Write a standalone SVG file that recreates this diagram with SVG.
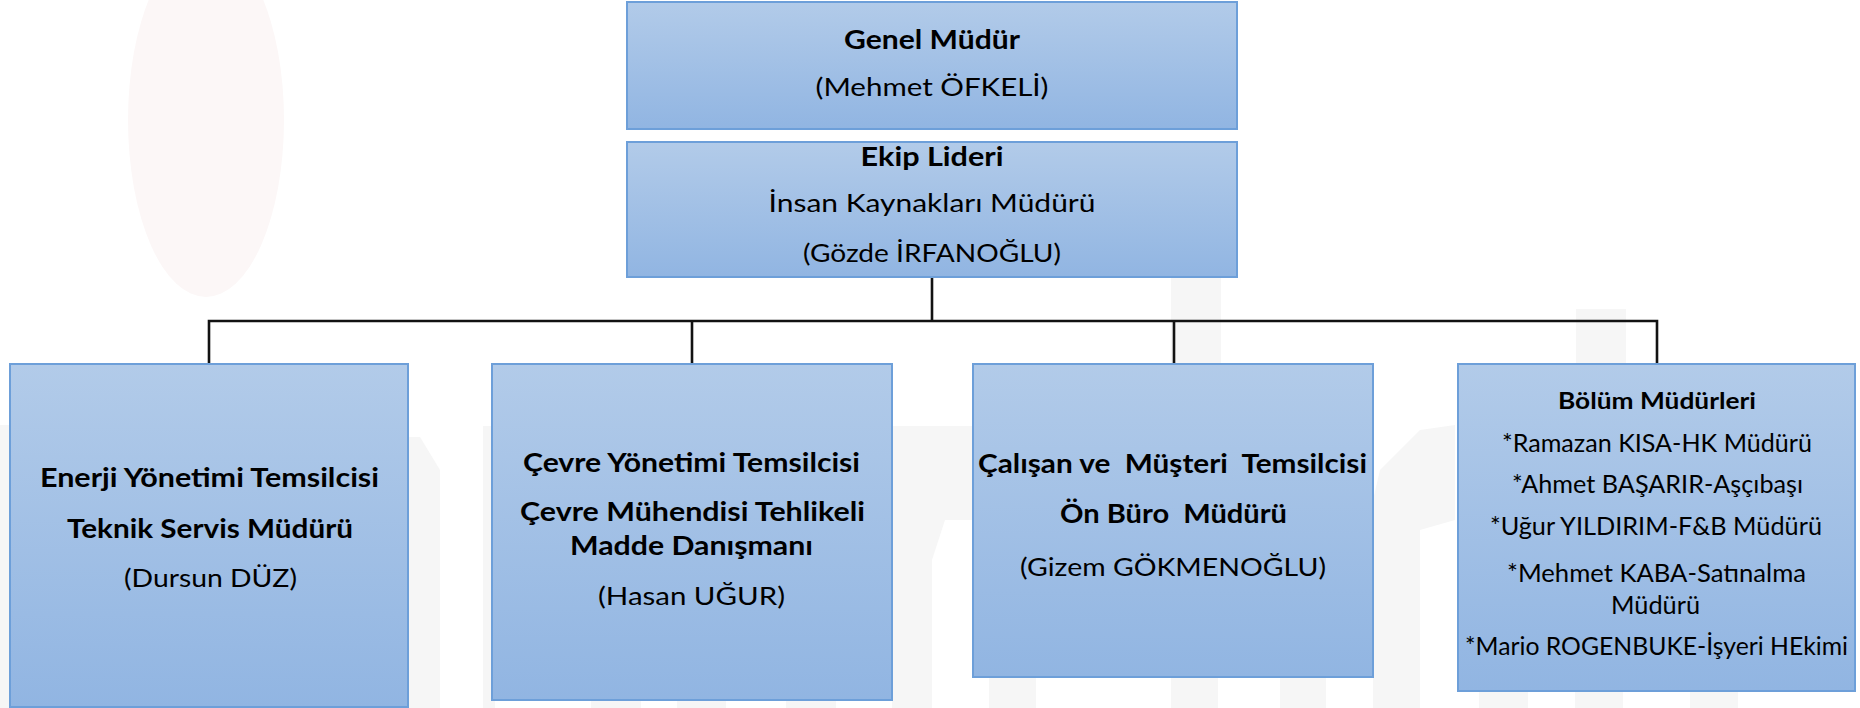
<svg xmlns="http://www.w3.org/2000/svg" width="1860" height="708" viewBox="0 0 1860 708">
<style>
.box{fill:url(#g);stroke:#6d9fd9;stroke-width:2}
.conn{fill:none;stroke:#121212;stroke-width:2.6}
text{font-family:Lato,"Liberation Sans",sans-serif;fill:#000;text-anchor:middle}
.b{font-weight:bold;font-size:27px}
.r{font-size:25px}
.sb{font-weight:bold;font-size:23px}
.wm{fill:#f6f6f6}
</style>
<defs>
<linearGradient id="g" x1="0" y1="0" x2="0" y2="1">
<stop offset="0" stop-color="#b2cbe9"/>
<stop offset="1" stop-color="#91b5e2"/>
</linearGradient>
</defs>
<rect width="1860" height="708" fill="#fff"/>
<g id="watermark">
<ellipse cx="206" cy="120" rx="78" ry="177" fill="#fcf7f7"/>
<rect class="wm" x="1171" y="278" width="50" height="86"/>
<rect class="wm" x="1576" y="309" width="50" height="55"/>
<polygon class="wm" points="0,425 20,425 20,708 0,708"/>
<polygon class="wm" points="408,437 420,437 440,470 440,708 408,708"/>
<rect class="wm" x="483" y="426" width="12" height="282"/>
<polygon class="wm" points="892,426 973,426 973,520 945,520 932,560 932,708 892,708"/>
<polygon class="wm" points="1455,425 1420,430 1380,470 1373,500 1373,708 1420,708 1420,530 1455,520"/>
<rect class="wm" x="591" y="700" width="50" height="8"/>
<rect class="wm" x="677" y="700" width="49" height="8"/>
<rect class="wm" x="786" y="700" width="50" height="8"/>
<rect class="wm" x="989" y="677" width="47" height="31"/>
<rect class="wm" x="1171" y="677" width="47" height="31"/>
<rect class="wm" x="1280" y="677" width="46" height="31"/>
<rect class="wm" x="1479" y="690" width="49" height="18"/>
<rect class="wm" x="1575" y="690" width="48" height="18"/>
<rect class="wm" x="1690" y="690" width="48" height="18"/>
</g>
<g id="connectors">
<path class="conn" d="M932 277 V321"/>
<path class="conn" d="M209 364 V321 H1657 V364"/>
<path class="conn" d="M692 321 V364"/>
<path class="conn" d="M1174 321 V364"/>
</g>
<g id="genel-mudur">
<rect class="box" x="627" y="2" width="610" height="127"/>
<text class="b" x="932" y="49" textLength="176" lengthAdjust="spacingAndGlyphs">Genel Müdür</text>
<text class="r" x="932" y="96" textLength="233" lengthAdjust="spacingAndGlyphs">(Mehmet ÖFKELİ)</text>
</g>
<g id="ekip-lideri">
<rect class="box" x="627" y="142" width="610" height="135"/>
<text class="b" x="932" y="166" textLength="143" lengthAdjust="spacingAndGlyphs">Ekip Lideri</text>
<text class="r" x="932" y="212" textLength="327" lengthAdjust="spacingAndGlyphs">İnsan Kaynakları Müdürü</text>
<text class="r" x="932" y="262" textLength="258" lengthAdjust="spacingAndGlyphs">(Gözde İRFANOĞLU)</text>
</g>
<g id="enerji">
<rect class="box" x="10" y="364" width="398" height="343"/>
<text class="b" x="209.5" y="487" textLength="339" lengthAdjust="spacingAndGlyphs">Enerji Yönetimi Temsilcisi</text>
<text class="b" x="210" y="538" textLength="286" lengthAdjust="spacingAndGlyphs">Teknik Servis Müdürü</text>
<text class="r" x="210.5" y="587" textLength="173" lengthAdjust="spacingAndGlyphs">(Dursun DÜZ)</text>
</g>
<g id="cevre">
<rect class="box" x="492" y="364" width="400" height="336"/>
<text class="b" x="691.5" y="472" textLength="337" lengthAdjust="spacingAndGlyphs">Çevre Yönetimi Temsilcisi</text>
<text class="b" x="692.5" y="521" textLength="345" lengthAdjust="spacingAndGlyphs">Çevre Mühendisi Tehlikeli</text>
<text class="b" x="691.5" y="555" textLength="243" lengthAdjust="spacingAndGlyphs">Madde Danışmanı</text>
<text class="r" x="691.5" y="605" textLength="187" lengthAdjust="spacingAndGlyphs">(Hasan UĞUR)</text>
</g>
<g id="calisan">
<rect class="box" x="973" y="364" width="400" height="313"/>
<text class="b" x="1172.5" y="473" textLength="389" lengthAdjust="spacingAndGlyphs" xml:space="preserve" style="white-space:pre">Çalışan ve  Müşteri  Temsilcisi</text>
<text class="b" x="1173.5" y="523" textLength="227" lengthAdjust="spacingAndGlyphs" xml:space="preserve" style="white-space:pre">Ön Büro  Müdürü</text>
<text class="r" x="1173" y="576" textLength="306" lengthAdjust="spacingAndGlyphs">(Gizem GÖKMENOĞLU)</text>
</g>
<g id="bolum">
<rect class="box" x="1458" y="364" width="397" height="327"/>
<text class="sb" x="1657" y="409" textLength="198" lengthAdjust="spacingAndGlyphs">Bölüm Müdürleri</text>
<text class="r" x="1657" y="452" textLength="310" lengthAdjust="spacingAndGlyphs">*Ramazan KISA-HK Müdürü</text>
<text class="r" x="1657.5" y="493" textLength="291" lengthAdjust="spacingAndGlyphs">*Ahmet BAŞARIR-Aşçıbaşı</text>
<text class="r" x="1656" y="535" textLength="332" lengthAdjust="spacingAndGlyphs">*Uğur YILDIRIM-F&amp;B Müdürü</text>
<text class="r" x="1656.5" y="582" textLength="299" lengthAdjust="spacingAndGlyphs">*Mehmet KABA-Satınalma</text>
<text class="r" x="1655.5" y="614" textLength="89" lengthAdjust="spacingAndGlyphs">Müdürü</text>
<text class="r" x="1656.5" y="655" textLength="383" lengthAdjust="spacingAndGlyphs">*Mario ROGENBUKE-İşyeri HEkimi</text>
</g>
</svg>
